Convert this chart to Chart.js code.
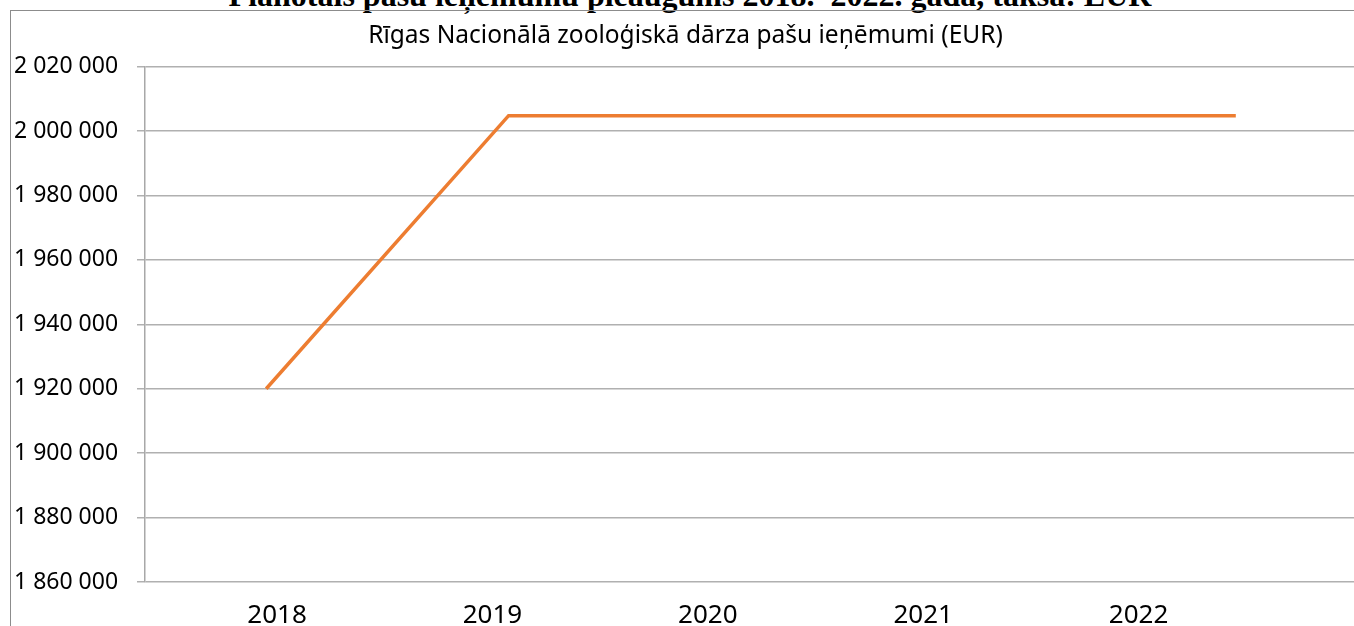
<!DOCTYPE html>
<html>
<head>
<meta charset="utf-8">
<script src="https://cdn.jsdelivr.net/npm/chart.js@4.4.1/dist/chart.umd.min.js"></script>
<style>
  html, body { margin: 0; padding: 0; overflow: hidden; background: #fff; }
  #wrap { position: relative; width: 1354px; height: 626px; overflow: hidden; background: #fff; }
  #frame { position: absolute; left: 10px; top: 10px; width: 1400px; height: 700px;
           border-left: 1.5px solid #8c8c8c; border-top: 1.5px solid #8c8c8c; }
  #heading { position: absolute; left: 0; top: -21px; width: 1380px; text-align: center;
             font-family: 'Liberation Serif', 'Times New Roman', serif; font-weight: bold;
             font-size: 32px; line-height: 32px; color: #000; white-space: nowrap; }
  #c { position: absolute; left: 0; top: 0; }
</style>
</head>
<body>
<div id="wrap">
<div id="heading">Plānotais pašu ieņēmumu pieaugums 2018.–2022. gadā, taksā: EUR</div>
<div id="frame"></div>
<canvas id="c" width="1357" height="626"></canvas>
</div>
<script>
const years = ['2018', '2019', '2020', '2021', '2022'];
const revenue = [1920000, 2004800, 2004800, 2004800, 2004800];
const yMin = 1860000;
const yMax = 2020000;
const yStep = 20000;
const chartTitle = 'Rīgas Nacionālā zooloģiskā dārza pašu ieņēmumi (EUR)';

function fmt(v) {
  return String(Math.round(v)).replace(/\B(?=(\d{3})+(?!\d))/g, ' ');
}

const yearNums = years.map(Number);

new Chart(document.getElementById('c'), {
  type: 'line',
  data: {
    labels: years,
    datasets: [{
      data: revenue,
      borderColor: '#ED7D31',
      borderWidth: 3.5,
      pointRadius: 0,
      tension: 0,
      fill: false
    }]
  },
  options: {
    responsive: false,
    animation: false,
    layout: { padding: { left: 14, right: 0, top: 0, bottom: 0 } },
    plugins: {
      legend: { display: false },
      tooltip: { enabled: false },
      title: {
        display: true,
        text: chartTitle,
        color: '#000',
        font: { family: "'Noto Sans'", size: 24.5, weight: 'normal', lineHeight: 1.2 },
        padding: { top: 21, bottom: 16.3 }
      }
    },
    scales: {
      x: {
        type: 'category',
        display: false,
        offset: true
      },
      xl: {
        type: 'linear',
        position: 'bottom',
        min: yearNums[0] - 0.613,
        max: yearNums[0] + 5.014,
        afterBuildTicks: (s) => { s.ticks = yearNums.map(v => ({ value: v })); },
        afterFit: (s) => { s.height = 44; },
        grid: { display: false },
        border: { display: false },
        ticks: {
          color: '#000',
          padding: 10,
          maxRotation: 0,
          autoSkip: false,
          font: { family: "'Noto Sans'", size: 26 },
          callback: (v) => String(v)
        }
      },
      y: {
        min: yMin,
        max: yMax,
        afterFit: (s) => { s.width = 131; },
        grid: { color: '#b0b0b0', lineWidth: 1.5, tickLength: 8, drawTicks: true },
        border: { display: true, color: '#a8a8a8', width: 1.5 },
        ticks: {
          stepSize: yStep,
          color: '#000',
          crossAlign: 'far',
          padding: 10,
          font: { family: "'Noto Sans'", size: 23 },
          callback: (v) => fmt(v)
        }
      }
    }
  }
});
</script>
</body>
</html>
